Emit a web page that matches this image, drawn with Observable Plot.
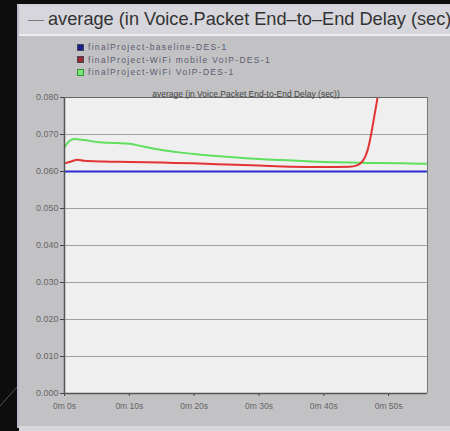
<!DOCTYPE html>
<html><head><meta charset="utf-8">
<script src="https://cdn.jsdelivr.net/npm/d3@7"></script>
<script src="https://cdn.jsdelivr.net/npm/@observablehq/plot@0.6"></script>
<style>
html,body{margin:0;padding:0;background:#0d0d0d;width:450px;height:431px;overflow:hidden;font-family:"Liberation Sans",Arial,sans-serif;}
#panel{position:absolute;left:17px;top:4px;width:440px;height:424px;background:#c2c2c4;border-left:2px solid #b8b8cc;border-top:2px solid #d0d0d8;box-sizing:border-box;}
#titlebar{position:absolute;left:19px;top:6px;width:440px;height:28px;background:#d6d6dc;border-bottom:2px solid #eeeef2;}
#title{position:absolute;left:48px;top:9px;font-size:18.2px;color:#333;white-space:nowrap;}
#dash{position:absolute;left:28px;top:20px;width:16px;height:1px;background:#777;}
#legend{position:absolute;left:77px;top:41px;font-size:8.5px;color:#5a5a70;line-height:12.5px;letter-spacing:1.3px;}
#legend div{display:flex;align-items:center;white-space:nowrap;}
#legend span.sw{display:inline-block;width:7px;height:7px;margin-right:4px;box-sizing:border-box;}
#chart{position:absolute;left:0;top:0;}
#bottom{position:absolute;left:19px;top:426px;width:440px;height:5px;background:#d8d8dc;}
#diag{position:absolute;left:0;top:0;}
</style></head>
<body>
<svg id="diag" width="20" height="431"><line x1="0" y1="406" x2="17" y2="387" stroke="#555" stroke-width="1"/></svg>
<div id="panel"></div>
<div id="titlebar"></div>
<div id="dash"></div>
<div id="title">average (in Voice.Packet End–to–End Delay (sec)</div>
<div id="bottom"></div>
<div id="legend"></div>
<div id="chart"></div>
<script>
const seriesNames = ["finalProject-baseline-DES-1","finalProject-WiFi mobile VoIP-DES-1","finalProject-WiFi VoIP-DES-1"];
const seriesColors = ["#2c2cd4","#e23434","#5ee05e"];
const legendSwatch = ["#1c1c8c","#9c2a2a","#2a9a2a"];

const baselineT = [0, 56];
const baselineV = [0.0600, 0.0600];

const mobileT = [0,1,2,3,6,10,15,20,25,30,35,40,44,45,46,46.8,47.3,47.8,48.2,48.6];
const mobileV = [0.0622,0.0627,0.0632,0.0629,0.0627,0.0626,0.0624,0.0622,0.0619,0.0616,0.0613,0.0612,0.0613,0.0616,0.0628,0.0660,0.0700,0.0750,0.0790,0.0840];

const wifiT = [0,0.5,1.5,3,5,8,10,12,15,18,20,24,28,32,36,40,44,48,52,56];
const wifiV = [0.0665,0.0678,0.0688,0.0685,0.0680,0.0677,0.0675,0.0668,0.0658,0.0651,0.0647,0.0641,0.0636,0.0632,0.0629,0.0626,0.0624,0.0623,0.0622,0.0621];

const yTicks = [0,0.01,0.02,0.03,0.04,0.05,0.06,0.07,0.08];
const xTicks = [0,10,20,30,40,50];
const xTickLabels = ["0m 0s","0m 10s","0m 20s","0m 30s","0m 40s","0m 50s"];
const subtitle = "average (in Voice.Packet End-to-End Delay (sec))";

const toRows = (T,V,s)=>T.map((t,i)=>({t, v:V[i], s}));
const data = [
  ...toRows(baselineT, baselineV, seriesNames[0]),
  ...toRows(wifiT, wifiV, seriesNames[2]),
  ...toRows(mobileT, mobileV, seriesNames[1])
];

// legend
const lg = document.getElementById("legend");
seriesNames.forEach((n,i)=>{
  const d=document.createElement("div");
  const sw=document.createElement("span");sw.className="sw";
  if(i===2){sw.style.border="1.5px solid "+legendSwatch[i];sw.style.background="#7ce07c";}
  else{sw.style.background=legendSwatch[i];sw.style.border="1px solid #445";}
  d.appendChild(sw);d.appendChild(document.createTextNode(n));lg.appendChild(d);
});

const chart = Plot.plot({
  width:450, height:431,
  marginLeft:64, marginRight:23, marginTop:97, marginBottom:38,
  style:{background:"transparent", fontFamily:"Liberation Sans, Arial, sans-serif", color:"#666"},
  x:{domain:[0,56], label:null},
  y:{domain:[0,0.08], label:null},
  color:{domain:seriesNames, range:seriesColors},
  marks:[
    Plot.frame({fill:"#efefef", stroke:null}),
    Plot.gridY(yTicks,{stroke:"#8c8c8c", strokeOpacity:1, strokeWidth:0.8}),
    Plot.axisY({ticks:yTicks, tickFormat:d3.format(".3f"), fontSize:9, tickSize:4, tickPadding:2, stroke:"#444", style:"letter-spacing:0.9px"}),
    Plot.axisX({ticks:xTicks, tickFormat:(d)=>xTickLabels[xTicks.indexOf(d)], fontSize:8.5, tickSize:3, tickPadding:6, stroke:"#444", style:"letter-spacing:0.8px"}),
    Plot.line(data,{x:"t", y:"v", z:"s", stroke:"s", strokeWidth:2, clip:true, curve:"monotone-x"}),
    Plot.ruleY([0],{stroke:"#555", strokeWidth:1.5}),
    Plot.ruleX([0],{stroke:"#555", strokeWidth:1.5}),
    Plot.ruleY([0.08],{stroke:"#666", strokeWidth:1}),
    Plot.ruleX([56],{stroke:"#777", strokeWidth:1}),
    Plot.text([subtitle],{frameAnchor:"top", dy:-7, fontSize:8.5, fill:"#444", textDecoration:"underline", style:"letter-spacing:0.9px"})
  ]
});
document.getElementById("chart").appendChild(chart);
</script>
</body></html>
